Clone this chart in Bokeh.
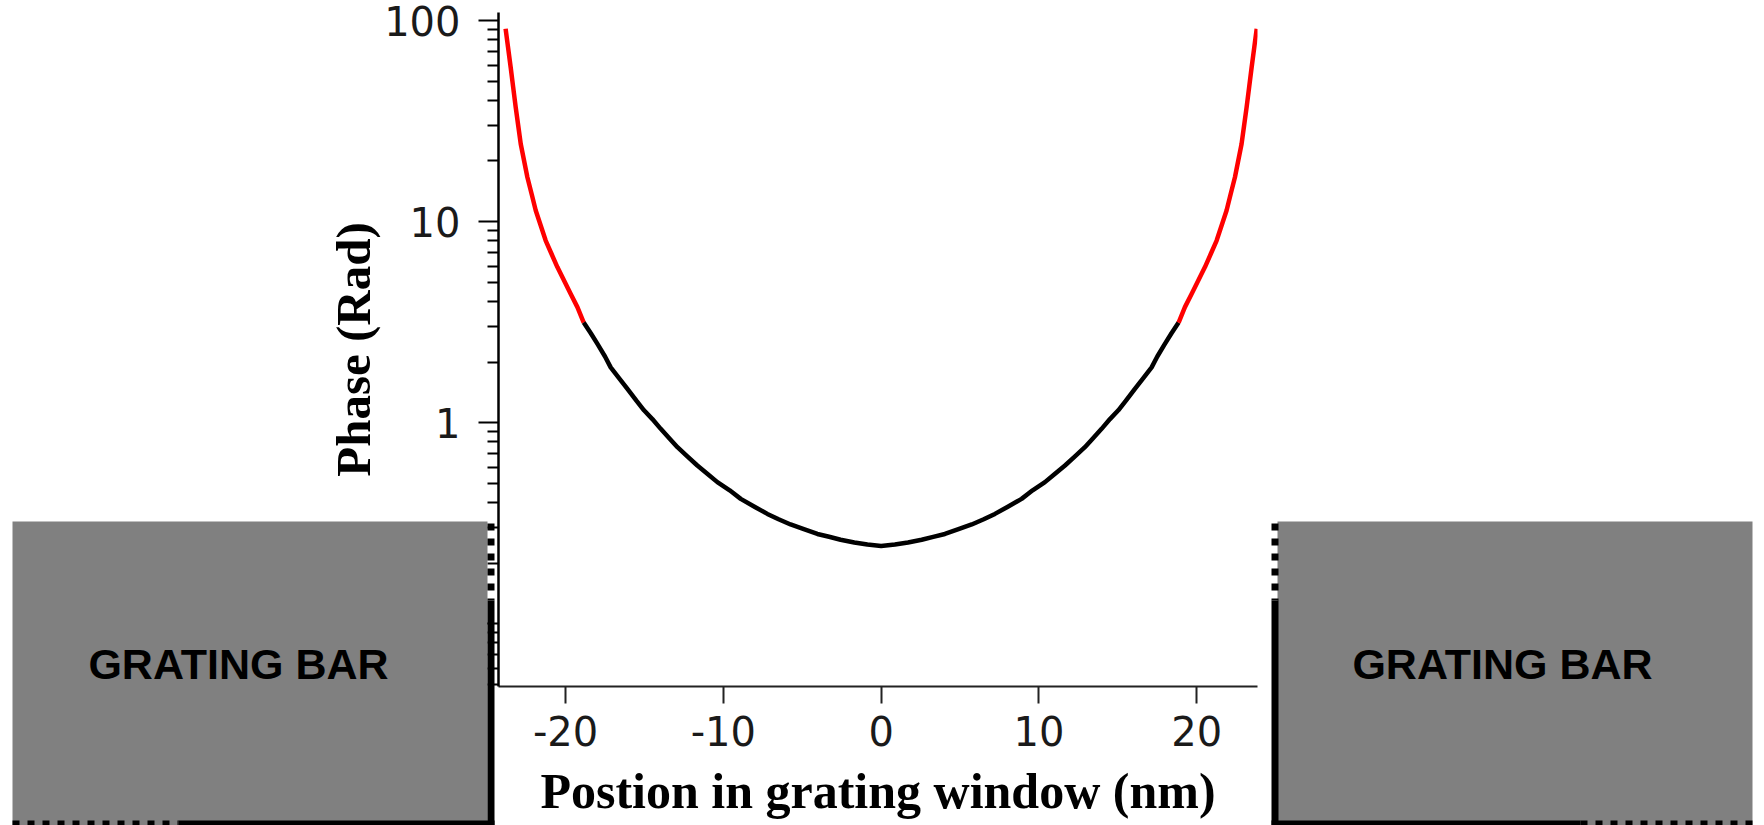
from bokeh.plotting import figure
from bokeh.models import Range1d, FixedTicker, NumeralTickFormatter
from bokeh.core.properties import value
from bokeh.embed import file_html
from bokeh.resources import INLINE

# ---- data ----
position_nm = [-23.8, -23.65, -23.48, -23.32, -23.16, -23.0, -22.84, -22.42, -22.15, -21.89,
               -21.26, -20.9, -20.52, -19.68, -19.25, -18.85, -18.4, -17.98, -17.5, -17.14,
               -16.6, -16.08, -15.5, -15.03, -14.5, -13.97, -13.4, -12.91, -12.3, -11.65,
               -11.0, -10.38, -9.6, -8.9, -8.0, -7.21, -6.5, -5.74, -4.9, -4.04,
               -3.3, -2.57, -1.7, -0.87, 0.0,
               0.87, 1.7, 2.57, 3.3, 4.04, 4.9, 5.74, 6.5, 7.21, 8.0,
               8.9, 9.6, 10.38, 11.0, 11.65, 12.3, 12.91, 13.4, 13.97, 14.5,
               15.03, 15.5, 16.08, 16.6, 17.14, 17.5, 17.98, 18.4, 18.85, 19.25,
               19.68, 20.52, 20.9, 21.26, 21.89, 22.15, 22.42, 22.84, 23.0, 23.16,
               23.32, 23.48, 23.65, 23.8]
phase_rad = [91.0, 74.0, 58.6, 46.6, 37.0, 30.0, 24.3, 16.6, 13.7, 11.35,
             8.04, 6.93, 5.93, 4.37, 3.75, 3.14, 2.78, 2.46, 2.13, 1.88,
             1.66, 1.47, 1.28, 1.15, 1.04, 0.93, 0.83, 0.754, 0.68, 0.611,
             0.555, 0.505, 0.46, 0.417, 0.38, 0.351, 0.33, 0.311, 0.295, 0.279,
             0.27, 0.261, 0.253, 0.247, 0.243,
             0.247, 0.253, 0.261, 0.27, 0.279, 0.295, 0.311, 0.33, 0.351, 0.38,
             0.417, 0.46, 0.505, 0.555, 0.611, 0.68, 0.754, 0.83, 0.93, 1.04,
             1.15, 1.28, 1.47, 1.66, 1.88, 2.13, 2.46, 2.78, 3.14, 3.75,
             4.37, 5.93, 6.93, 8.04, 11.35, 13.7, 16.6, 24.3, 30.0, 37.0,
             46.6, 58.6, 74.0, 91.0]
threshold_rad = 3.14          # above ~pi the curve is drawn in red

x_ticks = [-20, -10, 0, 10, 20]
y_ticks = [0.1, 1, 10, 100]
y_minor_ticks = [m * 10.0 ** e for e in (-2, -1, 0, 1) for m in range(2, 10)]

x_label = "Postion in grating window (nm)"
y_label = "Phase (Rad)"
bar_text = "GRATING BAR"

# split the curve into red (phase >= pi) and black parts
left_red = [(x, y) for x, y in zip(position_nm, phase_rad) if x < 0 and y >= threshold_rad]
right_red = [(x, y) for x, y in zip(position_nm, phase_rad) if x > 0 and y >= threshold_rad]
black = [(x, y) for x, y in zip(position_nm, phase_rad) if y <= threshold_rad]

# ---------------- main chart ----------------
p = figure(width=1764, height=825,
           x_range=Range1d(-24.25, 23.85), y_range=Range1d(0.0486, 109.6),
           y_axis_type="log", output_backend="svg", toolbar_location=None,
           min_border_left=498, min_border_right=507, min_border_top=12,
           min_border_bottom=139)
p.outline_line_color = None
p.grid.visible = False
p.background_fill_color = "white"
p.border_fill_color = "white"
p.styles = {"position": "absolute", "left": "0px", "top": "0px", "z-index": "1"}

for seg, col in ((left_red, "#ff0000"), (black, "#000000"), (right_red, "#ff0000")):
    p.line([s[0] for s in seg], [s[1] for s in seg], line_color=col, line_width=4.5,
           line_join="round")

xa = p.xaxis[0]
xa.ticker = FixedTicker(ticks=x_ticks, minor_ticks=[])
xa.formatter = NumeralTickFormatter(format="0")
xa.axis_line_width = 2
xa.axis_line_color = "#222222"
xa.major_tick_out = 17
xa.major_tick_in = 0
xa.major_tick_line_width = 2
xa.major_tick_line_color = "#222222"
xa.minor_tick_line_color = None
xa.major_label_text_font = "DejaVu Sans"
xa.major_label_text_font_size = "40px"
xa.major_label_text_color = "#1a1a1a"
xa.major_label_standoff = 12
xa.axis_label = x_label
xa.axis_label_text_font = "Liberation Serif"
xa.axis_label_text_font_style = "bold"
xa.axis_label_text_font_size = "50px"
xa.axis_label_text_color = "black"
xa.axis_label_standoff = 14

ya = p.yaxis[0]
ya.ticker = FixedTicker(ticks=y_ticks, minor_ticks=y_minor_ticks)
ya.formatter = NumeralTickFormatter(format="0.[0]")
ya.axis_line_width = 2.5
ya.axis_line_color = "black"
ya.major_tick_out = 20
ya.major_tick_in = 0
ya.minor_tick_out = 11
ya.minor_tick_in = 0
ya.major_tick_line_width = 2
ya.minor_tick_line_width = 2
ya.major_tick_line_color = "black"
ya.minor_tick_line_color = "black"
ya.major_label_text_font = "DejaVu Sans"
ya.major_label_text_font_size = "40px"
ya.major_label_text_color = "#1a1a1a"
ya.major_label_standoff = 18
ya.axis_label = y_label
ya.axis_label_text_font = "Liberation Serif"
ya.axis_label_text_font_style = "bold"
ya.axis_label_text_font_size = "49px"
ya.axis_label_text_color = "black"
ya.axis_label_standoff = 0

# ---------------- grating bar illustration (separate overlay, page pixels) ----------------
ov = figure(width=1764, height=825, x_range=Range1d(0, 1764), y_range=Range1d(825, 0),
            output_backend="svg", toolbar_location=None,
            x_axis_location=None, y_axis_location=None, min_border=0)
ov.outline_line_color = None
ov.grid.visible = False
ov.background_fill_color = None
ov.border_fill_color = None
ov.styles = {"position": "absolute", "left": "0px", "top": "0px", "z-index": "10"}

ov.quad(left=[12, 1277], right=[487, 1752], top=[521, 521], bottom=[825, 825],
        fill_color="#808080", line_color=None)
ov.segment(x0=[490.5, 12, 1274.5, 1580], y0=[523, 823.5, 523, 823.5],
           x1=[490.5, 178, 1274.5, 1752], y1=[600, 823.5, 600, 823.5],
           line_color="black", line_width=7, line_dash="7 8", line_cap="butt")
ov.segment(x0=[490.5, 178, 1274.5, 1271], y0=[600, 823.5, 600, 823.5],
           x1=[490.5, 494, 1274.5, 1580], y1=[825, 823.5, 825, 823.5],
           line_color="black", line_width=7, line_cap="butt")
ov.text(x=[238, 1502], y=[663, 663], text=[bar_text, bar_text],
        text_font=value("Liberation Sans"), text_font_style="bold",
        text_font_size="43px", text_align="center", text_baseline="middle",
        text_color="black")

open("out.html", "w").write(file_html([p, ov], INLINE))
